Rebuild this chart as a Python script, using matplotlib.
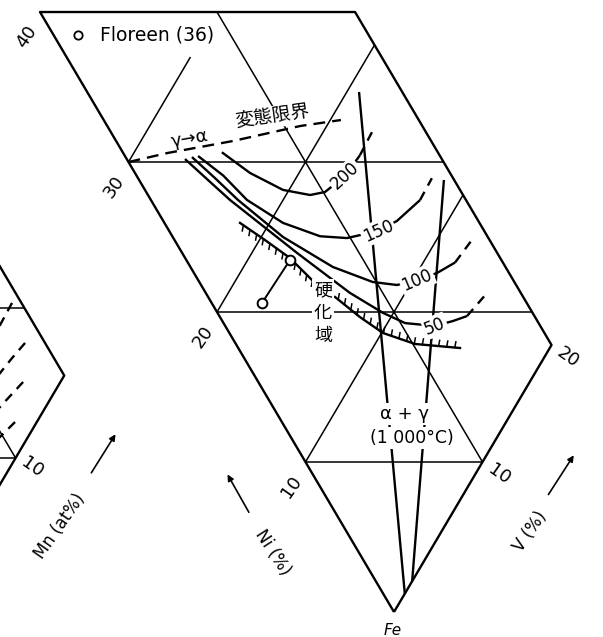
import numpy as np
import matplotlib.pyplot as plt

plt.rcParams['font.family'] = ['DejaVu Sans', 'Noto Sans CJK JP']

# ---- Fe-Ni-V corner, compositions in % as (Ni, V) ----
v_edge = 17.8          # right edge as printed (sits short of the 20 % mark)
outline_ni = [0, 40, 40 - v_edge, 0, 0]
outline_v = [0, 0, v_edge, v_edge, 0]

grid_ni0 = [10, 20, 30, 10, 20, 30, 0]
grid_v0 = [0, 0, 0, 0, 0, 0, 10]
grid_ni1 = [0, 20 - v_edge, 30 - v_edge, 10, 20, 30, 30]
grid_v1 = [10, v_edge, v_edge, v_edge, v_edge, 7, 10]

ni_ticks = [10, 20, 30, 40]
v_tick_pos = [10, v_edge]
v_tick_labels = ['10', '20']

# gamma -> alpha transformation limit (dashed)
limit_ni = [30, 28.1, 24.8, 21.5, 19.4]
limit_v = [0, 2.5, 6.6, 10.9, 13.4]

# hardness contours (solid part, then dashed extension)
hv_labels = ['200', '150', '100', '50']
hv200_ni = [25.05, 22.77, 20.34, 18.64, 17.9, 17.3, 17.15]
hv200_v = [5.6, 6.5, 7.8, 9.16, 10.1, 11.77, 13.3]
hv150_ni = [26.27, 24.2, 22.04, 19.24, 16.7, 15.12, 13.6, 12.87, 12.26]
hv150_v = [4.13, 4.9, 5.43, 6.7, 8.35, 9.81, 11.8, 13.2, 15.2]
hv100_ni = [26.58, 24.58, 22.55, 18.77, 14.95, 12.2, 10.73, 9.77, 8.87, 8.2]
hv100_v = [3.75, 4.35, 4.92, 6.23, 8.05, 9.8, 11.07, 12.37, 13.73, 15.1]
hv50_ni = [26.91, 24.91, 23.0, 17.45, 13.12, 10.59, 9.0, 7.22, 6.37, 5.74]
hv50_v = [3.29, 3.89, 4.47, 6.49, 8.15, 9.35, 10.26, 11.85, 13.03, 13.99]
hv_label_idx = [5, 6, 7, 7]

hv200_dash_ni = [17.15, 17.25]
hv200_dash_v = [13.3, 14.9]
hv150_dash_ni = [12.26, 12.32]
hv150_dash_v = [15.2, 16.6]
hv100_dash_ni = [8.2, 8.0]
hv100_dash_v = [15.1, 16.8]
hv50_dash_ni = [5.74, 5.36]
hv50_dash_v = [13.99, 15.98]

# hardening region boundaries (hatched)
hard1_ni = [21.67, 19.69, 17.68, 15.25]
hard1_v = [4.27, 5.11, 5.92, 6.55]
hard2_ni = [13.83, 11.75, 9.92, 7.75, 5.07]
hard2_v = [7.17, 7.91, 8.68, 10.12, 12.53]

# tie line between the two plotted alloys
tie_ni = [17.61, 17.76]
tie_v = [5.86, 2.84]

# alpha + gamma field at 1000 C
ag1_ni = [19.31, 0]
ag1_v = [15.36, 1.22]
ag2_ni = [11.58, 0]
ag2_v = [17.22, 2.05]

# ---- neighbouring Fe-Ni-Mn corner (cut off on the left), (Ni, Mn) ----
mn_edge = 15.5
mn_out_ni = [12, 0, 0]
mn_out_mn = [mn_edge, mn_edge, 0]
mn_grid_ni0 = [0, 4.5, 0]
mn_grid_mn0 = [10, mn_edge, 10]
mn_grid_ni1 = [10, 20, 12]
mn_grid_mn1 = [0, 0, 10]
mn_d1_ni = [5.37, 5.31, 5.37]
mn_d1_mn = [14.97, 13.56, 12.5]
mn_d2_ni = [3.3, 3.53, 3.71, 3.89]
mn_d2_mn = [14.37, 13.14, 11.96, 10.78]
mn_d3_ni = [2.11, 2.58, 2.82]
mn_d3_mn = [12.96, 10.83, 9.71]
mn_d4_ni = [1.23, 1.58, 1.89]
mn_d4_mn = [11.17, 9.83, 8.78]


def to_xy(ni, v):
    ni = np.asarray(ni, float)
    v = np.asarray(v, float)
    return (v - ni) / 2, (v + ni) * np.sqrt(3) / 2


def to_xy_mn(ni, mn):
    x, y = to_xy(ni, mn)
    return x - 26.38, y + 0.23


fig = plt.figure(figsize=(6.03, 6.37), dpi=100)
ax = fig.add_axes([0, 0, 1, 1])
ax.set_xlim(-394 / 17.7, 209 / 17.7)
ax.set_ylim(-25 / 17.32, 612 / 17.32)
ax.axis('off')

lw_grid = 1.1
lw_main = 1.7
white = dict(boxstyle='square,pad=0.1', fc='white', ec='none')


def line(f, ni, v, **kw):
    x, y = f(ni, v)
    ax.plot(x, y, color='black', solid_capstyle='butt', **kw)


def hatch(ni, v, updown, step=0.46, length=0.33):
    # boundary with short upright ticks on one side (updown = +1 up, -1 down)
    x, y = to_xy(ni, v)
    ax.plot(x, y, color='black', lw=lw_main)
    seg = np.hypot(np.diff(x), np.diff(y))
    s = np.concatenate([[0], np.cumsum(seg)])
    for t in np.arange(step / 2, s[-1], step):
        px, py = np.interp(t, s, x), np.interp(t, s, y)
        ax.plot([px, px + 0.06 * updown], [py, py + length * updown],
                color='black', lw=1.1)


# outline and grid
line(to_xy, outline_ni, outline_v, lw=lw_main)
for a0, b0, a1, b1 in zip(grid_ni0, grid_v0, grid_ni1, grid_v1):
    line(to_xy, [a0, a1], [b0, b1], lw=lw_grid)

line(to_xy_mn, mn_out_ni, mn_out_mn, lw=lw_main)
for a0, b0, a1, b1 in zip(mn_grid_ni0, mn_grid_mn0, mn_grid_ni1, mn_grid_mn1):
    line(to_xy_mn, [a0, a1], [b0, b1], lw=lw_grid)
for a, b in [(mn_d1_ni, mn_d1_mn), (mn_d2_ni, mn_d2_mn),
             (mn_d3_ni, mn_d3_mn), (mn_d4_ni, mn_d4_mn)]:
    line(to_xy_mn, a, b, lw=lw_main, ls=(0, (4, 3)))

# transformation limit
line(to_xy, limit_ni, limit_v, lw=lw_main, ls=(0, (5, 3)))

# alpha+gamma boundaries
line(to_xy, ag1_ni, ag1_v, lw=lw_main)
line(to_xy, ag2_ni, ag2_v, lw=lw_main)

# hardness contours
solid = [(hv200_ni, hv200_v), (hv150_ni, hv150_v),
         (hv100_ni, hv100_v), (hv50_ni, hv50_v)]
dashed = [(hv200_dash_ni, hv200_dash_v), (hv150_dash_ni, hv150_dash_v),
          (hv100_dash_ni, hv100_dash_v), (hv50_dash_ni, hv50_dash_v)]
rots = [43, 24, 23, 22]
for (ni, v), (dni, dv), lab, k, r in zip(solid, dashed, hv_labels, hv_label_idx, rots):
    line(to_xy, ni, v, lw=lw_main)
    line(to_xy, dni, dv, lw=lw_main, ls=(0, (4, 3)))
    x, y = to_xy(ni[k], v[k])
    ax.text(x, y, lab, fontsize=12, rotation=r, rotation_mode='anchor',
            ha='center', va='center', bbox=white, zorder=5)

# hardening region
hatch(hard1_ni, hard1_v, updown=-1)
hatch(hard2_ni, hard2_v, updown=1)
for ch, (a, b) in zip('硬化域', [(14.74, 6.72), (13.98, 5.96), (13.2, 5.19)]):
    x, y = to_xy(a, b)
    ax.text(x, y, ch, fontsize=13, ha='center', va='center',
            family='Noto Sans CJK JP', bbox=white, zorder=5)

x, y = to_xy(tie_ni, tie_v)
ax.plot(x, y, color='black', lw=lw_grid + 0.3, marker='o', ms=7,
        mfc='white', mec='black', mew=1.4, zorder=6)

# labels inside the diagram
x, y = to_xy(27.29, 4.24)
ax.text(x, y, 'γ→α', fontsize=13, rotation=10, ha='center', va='center',
        family='DejaVu Sans', zorder=5)
x, y = to_xy(23.4, 9.6)
ax.text(x, y, '変態限界', fontsize=13.5, rotation=8, ha='center', va='center',
        family='Noto Sans CJK JP',
        bbox=dict(boxstyle='square,pad=0.02', fc='white', ec='none'), zorder=5)
x, y = to_xy(5.98, 7.22)
ax.text(x, y, 'α + γ', fontsize=13, ha='center', va='center',
        bbox=white, zorder=5)
x, y = to_xy(4.78, 6.82)
ax.text(x, y, '(1 000°C)', fontsize=12.5, ha='center', va='center',
        bbox=white, zorder=5)

# axis numbers
for t in ni_ticks:
    x, y = to_xy(t, 0)
    ax.annotate(str(t), (x, y), xytext=(-10, -18), textcoords='offset points',
                fontsize=13, rotation=55, ha='center', va='center')
for t, lab in zip(v_tick_pos, v_tick_labels):
    x, y = to_xy(0, t)
    ax.annotate(lab, (x, y), xytext=(12, -9), textcoords='offset points',
                fontsize=13, rotation=-35, ha='center', va='center')
x, y = to_xy_mn(0, 10)
ax.annotate('10', (x, y), xytext=(12, -7), textcoords='offset points',
            fontsize=13, rotation=-35, ha='center', va='center')

# axis titles with arrows
arrow = dict(arrowstyle='-|>', color='black', lw=1.2, mutation_scale=9)
ax.annotate('', xy=(0.194, 0.322), xytext=(0.149, 0.254),
            xycoords='axes fraction', arrowprops=arrow)
ax.annotate('', xy=(0.375, 0.259), xytext=(0.415, 0.192),
            xycoords='axes fraction', arrowprops=arrow)
ax.annotate('', xy=(0.954, 0.289), xytext=(0.907, 0.220),
            xycoords='axes fraction', arrowprops=arrow)
ax.text(0.0995, 0.174, 'Mn (at%)', transform=ax.transAxes, fontsize=12,
        rotation=55, ha='center', va='center')
ax.text(0.453, 0.132, 'Ni (%)', transform=ax.transAxes, fontsize=12,
        rotation=-57, ha='center', va='center')
ax.text(0.879, 0.165, 'V (%)', transform=ax.transAxes, fontsize=12,
        rotation=55, ha='center', va='center')
ax.text(0.652, 0.022, 'Fe', transform=ax.transAxes, fontsize=11,
        ha='center', va='top', style='italic')

# legend entry
ax.plot([0.129], [0.945], transform=ax.transAxes, marker='o', ms=6,
        mfc='white', mec='black', mew=1.3)
ax.text(0.166, 0.945, 'Floreen (36)', transform=ax.transAxes, fontsize=13.5,
        ha='left', va='center', bbox=white, zorder=5)

fig.savefig('out.png', dpi=100)
